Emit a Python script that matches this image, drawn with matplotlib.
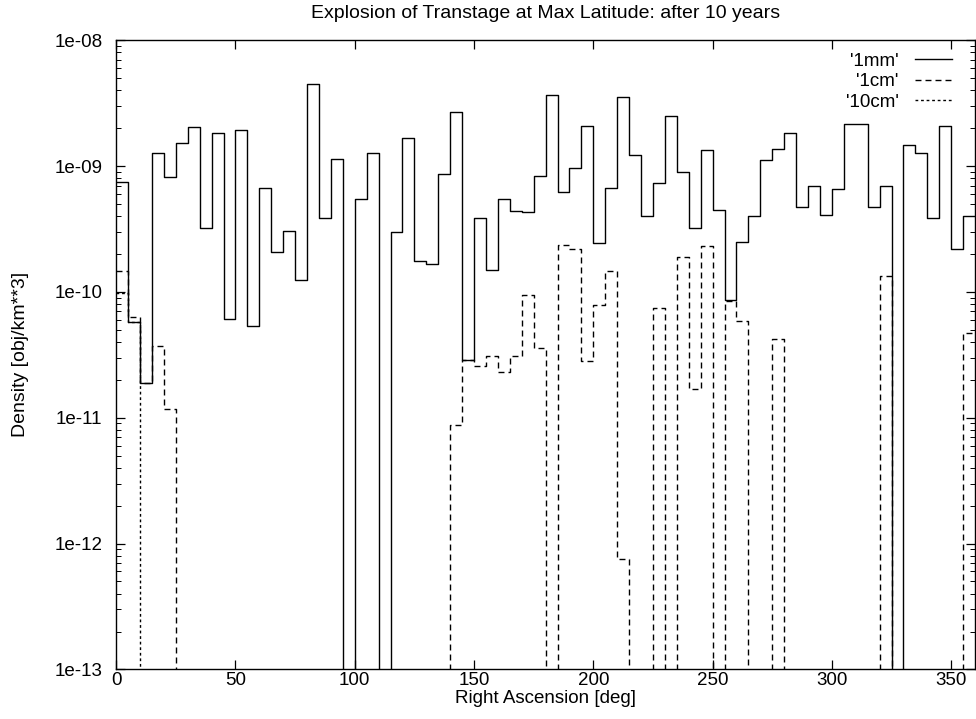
import numpy as np
import matplotlib.pyplot as plt
from matplotlib.ticker import FuncFormatter, NullLocator, LogLocator

plt.rcParams['font.family'] = ['Liberation Sans', 'DejaVu Sans']

# 5 degree bins in right ascension
ra_edges = np.arange(0, 361, 5)

dens_1mm = [
    7.5e-10, 5.8e-11, 1.9e-11, 1.26e-9, 8.2e-10, 1.53e-9,
    2.05e-9, 3.2e-10, 1.82e-9, 6.1e-11, 1.93e-9, 5.4e-11,
    6.65e-10, 2.07e-10, 3.05e-10, 1.24e-10, 4.48e-9, 3.9e-10,
    1.14e-9, 0, 5.5e-10, 1.26e-9, 0, 3.0e-10,
    1.68e-9, 1.76e-10, 1.66e-10, 8.6e-10, 2.7e-9, 2.9e-11,
    3.9e-10, 1.48e-10, 5.5e-10, 4.4e-10, 4.35e-10, 8.4e-10,
    3.7e-9, 6.2e-10, 9.7e-10, 2.1e-9, 2.43e-10, 6.65e-10,
    3.55e-9, 1.22e-9, 4.0e-10, 7.4e-10, 2.5e-9, 9.0e-10,
    3.2e-10, 1.35e-9, 4.5e-10, 8.7e-11, 2.5e-10, 4.0e-10,
    1.12e-9, 1.36e-9, 1.82e-9, 4.7e-10, 7.0e-10, 4.1e-10,
    6.6e-10, 2.15e-9, 2.15e-9, 4.7e-10, 6.9e-10, 0,
    1.46e-9, 1.26e-9, 3.85e-10, 2.1e-9, 2.2e-10, 4.0e-10,
]

dens_1cm = [
    1.47e-10, 6.3e-11, 1.9e-11, 3.7e-11, 1.18e-11, 0,
    0, 0, 0, 0, 0, 0,
    0, 0, 0, 0, 0, 0,
    0, 0, 0, 0, 0, 0,
    0, 0, 0, 0, 8.8e-12, 2.9e-11,
    2.6e-11, 3.1e-11, 2.3e-11, 3.1e-11, 9.5e-11, 3.6e-11,
    0, 2.36e-10, 2.2e-10, 2.85e-11, 7.9e-11, 1.47e-10,
    7.5e-13, 0, 0, 7.4e-11, 0, 1.88e-10,
    1.7e-11, 2.3e-10, 0, 8.5e-11, 5.9e-11, 0,
    0, 4.2e-11, 0, 0, 0, 0,
    0, 0, 0, 0, 1.34e-10, 0,
    0, 0, 0, 0, 0, 4.7e-11,
]

dens_10cm = [9.8e-11, 5.8e-11] + [0] * 70

series = [
    (dens_1mm, "'1mm'", '-', 3),
    (dens_1cm, "'1cm'", (0, (4.3, 2.9)), 2),
    (dens_10cm, "'10cm'", (0, (2.0, 2.0)), 1),
]

fig, ax = plt.subplots(figsize=(9.76, 7.19), dpi=100)
fig.subplots_adjust(left=0.119, right=0.999, bottom=0.069, top=0.944)

for vals, lab, ls, z in series:
    v = np.array(vals, dtype=float)
    v[v <= 0] = 1e-16  # empty bins drop off the bottom of the log axis
    ax.step(ra_edges, np.append(v, v[-1]), where='post', color='black',
            lw=1.0, linestyle=ls, label=lab, zorder=z)

ax.set_yscale('log')
ax.set_xlim(0, 360)
ax.set_ylim(1e-13, 1e-8)
ax.set_xticks(np.arange(0, 351, 50))
ax.xaxis.set_minor_locator(NullLocator())
ax.yaxis.set_minor_locator(LogLocator(base=10, subs=np.arange(2, 10)))
ax.yaxis.set_major_formatter(FuncFormatter(lambda v, p: f"{v:.0e}"))
ax.tick_params(which='both', direction='in', top=True, right=True, labelsize=13.5)
ax.tick_params(which='major', length=6.5, width=0.9)
ax.tick_params(which='minor', length=3.3, width=0.7)
ax.tick_params(axis='x', pad=2)
ax.tick_params(axis='y', pad=10)
for s in ax.spines.values():
    s.set_linewidth(1.0)

ax.set_title('Explosion of Transtage at Max Latitude: after 10 years', fontsize=14, pad=16)
ax.set_xlabel('Right Ascension [deg]', fontsize=13.5)
ax.xaxis.set_label_coords(0.5, -0.032)
ax.set_ylabel('Density [obj/km**3]', fontsize=14, labelpad=18)

# gnuplot style key: labels right-aligned, line samples after them
ax.legend(loc='upper right', bbox_to_anchor=(0.973, 0.980), frameon=False,
          markerfirst=False, fontsize=13.5, handlelength=1.95, handletextpad=0.9,
          labelspacing=0.17, borderaxespad=0, borderpad=0)

fig.savefig('out.png', dpi=100)
